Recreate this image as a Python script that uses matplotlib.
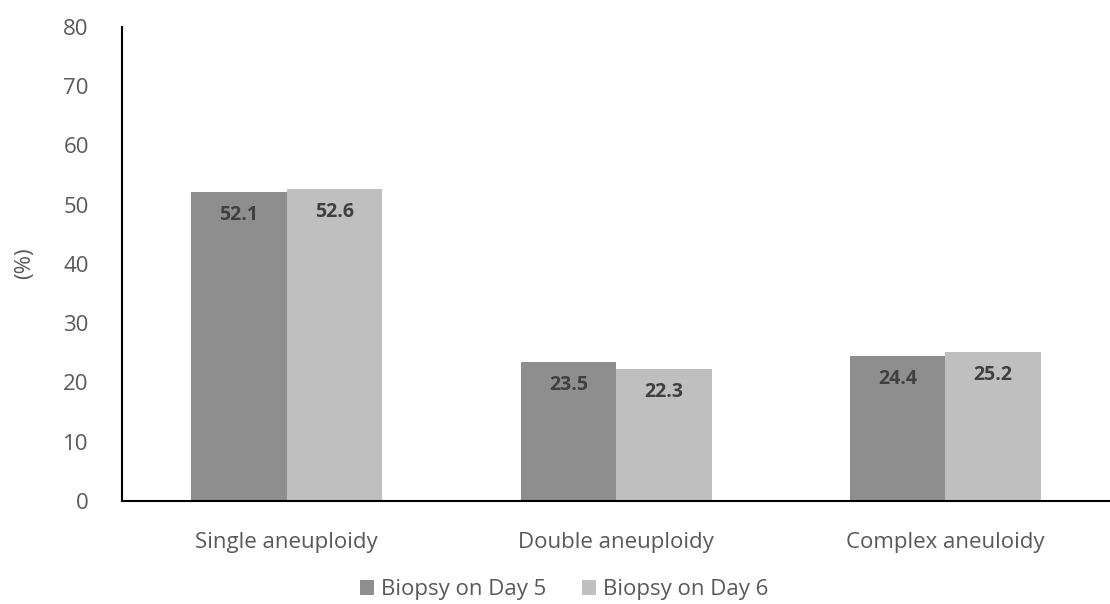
import matplotlib.pyplot as plt
import numpy as np

categories = ['Single aneuploidy', 'Double aneuploidy', 'Complex aneuloidy']
day5 = [52.1, 23.5, 24.4]
day6 = [52.6, 22.3, 25.2]
series_names = ['Biopsy on Day 5', 'Biopsy on Day 6']
yticks = [0, 10, 20, 30, 40, 50, 60, 70, 80]

plt.rcParams['font.family'] = ['Open Sans', 'DejaVu Sans']

fig = plt.figure(figsize=(11.1, 6.04), dpi=100)
ax = fig.add_axes([0.11, 0.1705, 0.89, 0.785])

x = np.arange(len(categories))
w = 0.29
b5 = ax.bar(x - w / 2, day5, w, color='#8e8e8e', label=series_names[0])
b6 = ax.bar(x + w / 2, day6, w, color='#bfbfbf', label=series_names[1])

# value labels just inside the top of each bar
for bars, vals in [(b5, day5), (b6, day6)]:
    for r, v in zip(bars, vals):
        ax.text(r.get_x() + r.get_width() / 2, v - 2.2, f'{v}', ha='center', va='top',
                fontsize=14, fontweight='bold', color='#404040')

ax.set_xlim(-0.5, 2.5)
ax.set_ylim(0, 80)
ax.set_yticks(yticks)
ax.set_xticks(x)
ax.set_xticklabels(categories)
ax.tick_params(length=0, labelsize=16, labelcolor='#595959')
ax.tick_params(axis='y', pad=24)
ax.tick_params(axis='x', pad=22)
for s in ['top', 'right']:
    ax.spines[s].set_visible(False)
ax.spines['left'].set_color('black')
ax.spines['bottom'].set_color('black')
ax.spines['left'].set_linewidth(1.5)
ax.spines['bottom'].set_linewidth(1.5)

fig.text(0.022, 0.565, '(%)', rotation=90, ha='center', va='center', fontsize=16, color='#595959')

fig.legend(loc='center', bbox_to_anchor=(0.508, 0.024), ncol=2, frameon=False,
           fontsize=16, labelcolor='#595959', handlelength=0.65, handleheight=0.65,
           handletextpad=0.3, columnspacing=1.6, borderpad=0)

fig.savefig('out.png', dpi=100)
